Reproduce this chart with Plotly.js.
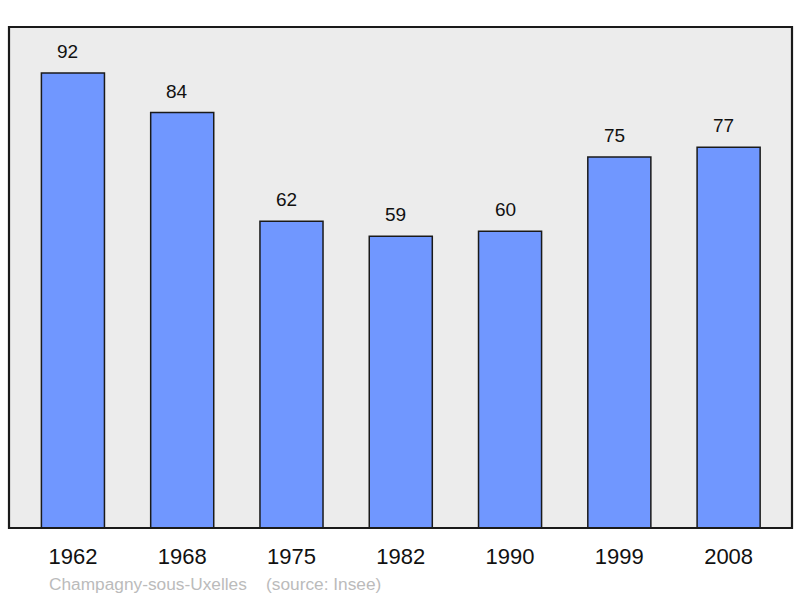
<!DOCTYPE html>
<html>
<head>
<meta charset="utf-8">
<script src="https://cdn.plot.ly/plotly-3.0.1.min.js"></script>
<style>
  html, body { margin: 0; padding: 0; background: #fff; }
  #chart { width: 800px; height: 598px; }
</style>
</head>
<body>
<div id="chart"></div>
<script>
// Population par recensement
const years = ['1962', '1968', '1975', '1982', '1990', '1999', '2008'];
const population = [92, 84, 62, 59, 60, 75, 77];
const caption = 'Champagny-sous-Uxelles\u00a0\u00a0\u00a0\u00a0(source: Insee)';

const trace = {
  x: years, y: population, type: 'bar', width: 0.577,
  marker: { color: '#7097ff', line: { color: '#1a1a1a', width: 1.5 } },
  hoverinfo: 'skip'
};

// sur un axe catégoriel, les annotations se placent par indice
const valueLabels = years.map((yr, i) => ({
  x: i, y: population[i], xref: 'x', yref: 'y',
  text: String(population[i]), showarrow: false,
  yanchor: 'bottom', yshift: 9, xshift: -5,
  font: { family: 'Liberation Sans, Arial, sans-serif', size: 19, color: '#111' }
}));

Plotly.newPlot('chart', [trace], {
  width: 800, height: 598,
  paper_bgcolor: '#fff', plot_bgcolor: '#ececec',
  margin: { l: 9, r: 8, t: 27, b: 70 },
  xaxis: {
    type: 'category', range: [-0.585, 6.58], fixedrange: true,
    showgrid: false, zeroline: false, showline: false,
    ticks: '', ticklabelstandoff: 13,
    tickfont: { family: 'Liberation Sans, Arial, sans-serif', size: 22, color: '#111' }
  },
  yaxis: {
    range: [0, 101.3], fixedrange: true,
    showgrid: false, zeroline: false, showline: false, showticklabels: false
  },
  shapes: [{
    type: 'rect', xref: 'paper', yref: 'paper', x0: 0, x1: 1, y0: 0, y1: 1,
    line: { color: '#1a1a1a', width: 2.2 }, fillcolor: 'rgba(0,0,0,0)', layer: 'above'
  }],
  annotations: valueLabels.concat([{
    xref: 'paper', yref: 'paper', x: 0.048, y: 0, yshift: -56,
    xanchor: 'left', yanchor: 'middle', showarrow: false, text: caption,
    font: { family: 'Liberation Sans, Arial, sans-serif', size: 17.3, color: '#bbbbbb' }
  }]),
  showlegend: false
}, { displayModeBar: false, staticPlot: true });
</script>
</body>
</html>
